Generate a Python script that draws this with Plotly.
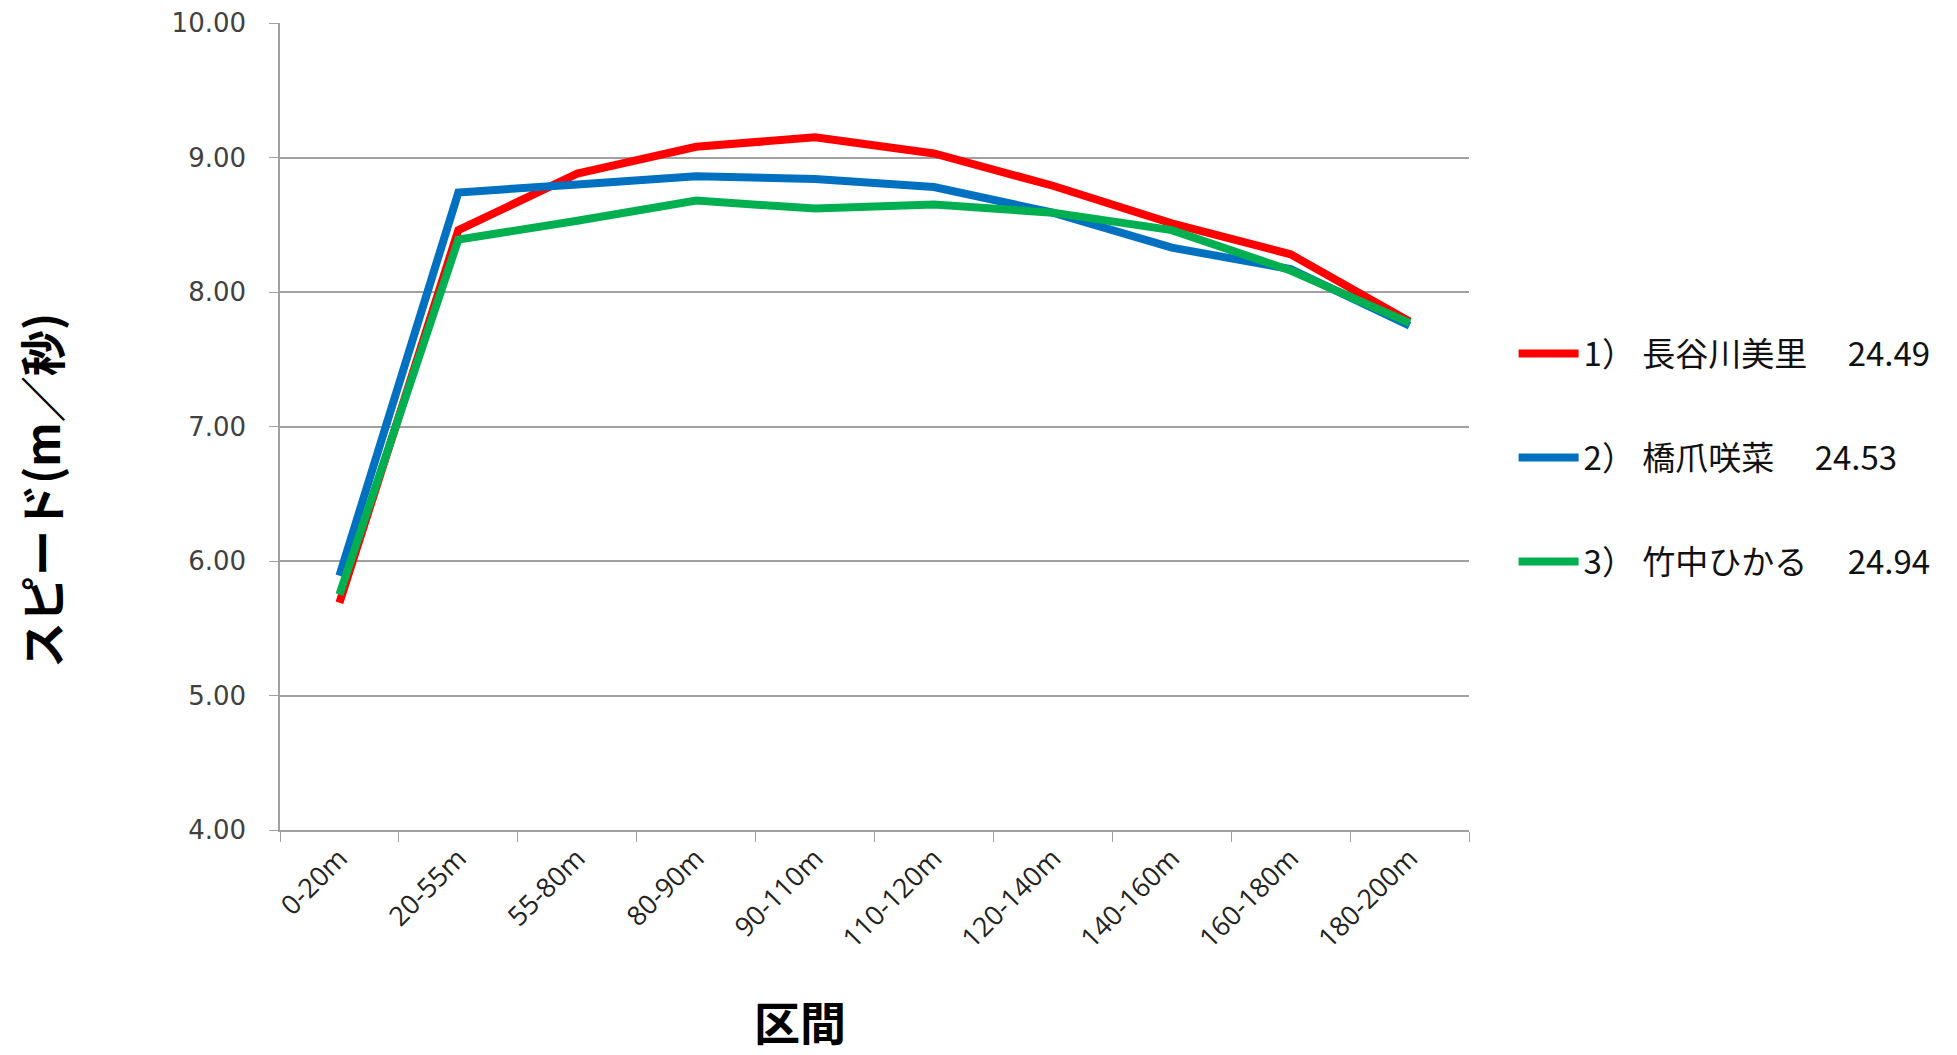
import plotly.graph_objects as go

categories = ["0-20m", "20-55m", "55-80m", "80-90m", "90-110m",
              "110-120m", "120-140m", "140-160m", "160-180m", "180-200m"]

names = ["1） 長谷川美里　 24.49", "2） 橋爪咲菜　 24.53", "3） 竹中ひかる　 24.94"]
hasegawa = [5.69, 8.46, 8.88, 9.08, 9.15, 9.03, 8.79, 8.51, 8.28, 7.78]
hashizume = [5.89, 8.74, 8.80, 8.86, 8.84, 8.78, 8.59, 8.33, 8.17, 7.75]
takenaka = [5.75, 8.39, 8.53, 8.68, 8.62, 8.65, 8.59, 8.46, 8.16, 7.77]
colors = ["#FF0000", "#0070C0", "#00B050"]

fig = go.Figure()
for i, (nm, vals) in enumerate(zip(names, [hasegawa, hashizume, takenaka])):
    fig.add_trace(go.Scatter(
        x=categories, y=vals, mode="lines", name=nm,
        legendgroup=f"g{i}",
        line=dict(color=colors[i], width=8, shape="linear"),
    ))

fig.update_layout(
    width=1949, height=1047,
    margin=dict(l=272, r=488, t=14.5, b=225, autoexpand=False),
    plot_bgcolor="white", paper_bgcolor="white",
    font=dict(family="Noto Sans CJK JP, Noto Sans, sans-serif", color="#000000"),
    showlegend=True,
    legend=dict(
        x=1.0375, y=0.625, xanchor="left", yanchor="top",
        font=dict(size=33, family="Noto Sans CJK JP, Noto Sans", color="#111111"),
        tracegroupgap=58, itemwidth=60,
        bgcolor="rgba(0,0,0,0)",
    ),
)

fig.update_xaxes(
    type="category", range=[-0.5, 9.5], automargin=False,
    showline=True, linecolor="#A0A0A0", linewidth=1.5,
    ticks="outside", tickson="boundaries", ticklen=10, tickcolor="#A0A0A0",
    tickangle=-45,
    tickfont=dict(size=27, family="Open Sans, Noto Sans", color="#222222"),
    showgrid=False,
)
fig.update_yaxes(
    range=[4, 10], dtick=1, tickformat=".2f", automargin=False,
    showline=True, linecolor="#A0A0A0", linewidth=1.5,
    ticks="outside", ticklen=9, tickcolor="#A0A0A0",
    ticklabelstandoff=18,
    tickfont=dict(size=26, family="DejaVu Sans", color="#404040"),
    showgrid=True, gridcolor="#A0A0A0", gridwidth=1.5,
    zeroline=False,
)

fig.add_annotation(
    text="<b>スピード(m／秒)</b>", textangle=-90,
    xref="paper", yref="paper", x=-0.202, y=0.421,
    xanchor="center", yanchor="middle", showarrow=False,
    font=dict(size=46, family="Noto Sans CJK JP", color="#000000"),
)
fig.add_annotation(
    text="<b>区間</b>",
    xref="paper", yref="paper", x=0.437, y=-0.236,
    xanchor="center", yanchor="middle", showarrow=False,
    font=dict(size=46, family="Noto Sans CJK JP", color="#000000"),
)

fig.write_html("out.html")
